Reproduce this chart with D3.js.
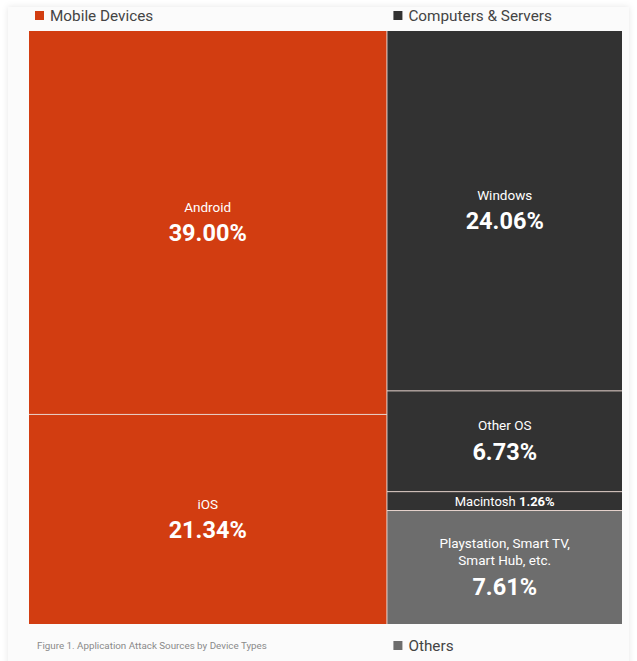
<!DOCTYPE html>
<html>
<head>
<meta charset="utf-8">
<script src="https://cdn.jsdelivr.net/npm/d3@7"></script>
<style>
  html, body { margin: 0; padding: 0; background: #ffffff; }
  svg { display: block; font-family: Roboto, "Noto Sans", sans-serif; }
</style>
</head>
<body>
<svg id="chart" width="637" height="661"></svg>
<script>
// ---- data ----
const categories = ["Android", "iOS", "Windows", "Other OS", "Macintosh", "Playstation, Smart TV, Smart Hub, etc."];
const groupOf    = ["Mobile Devices", "Mobile Devices", "Computers & Servers", "Computers & Servers", "Computers & Servers", "Others"];
const values     = [39.00, 21.34, 24.06, 6.73, 1.26, 7.61];
const groupNames = ["Mobile Devices", "Computers & Servers", "Others"];
const groupColors = ["#d23d11", "#323232", "#6d6d6d"];
const caption = "Figure 1. Application Attack Sources by Device Types";

// ---- layout ----
const W = 637, H = 661;
const box = { x0: 29, y0: 31, x1: 622, y1: 624 };
const svg = d3.select("#chart");

const defs = svg.append("defs");
const f = defs.append("filter").attr("id", "shadow").attr("x", "-5%").attr("y", "-5%").attr("width", "110%").attr("height", "110%");
f.append("feDropShadow").attr("dx", 0).attr("dy", 0).attr("stdDeviation", 3).attr("flood-color", "#000").attr("flood-opacity", 0.10);

svg.append("rect").attr("x", 0).attr("y", 0).attr("width", W).attr("height", H).attr("fill", "#ffffff");
svg.append("rect").attr("x", 8).attr("y", 7).attr("width", 621).attr("height", 670)
  .attr("fill", "#fbfbfb").attr("filter", "url(#shadow)");

// hierarchy: root -> [Mobile, Right column -> [Computers, Others]]
const leaves = categories.map((c, i) => ({ name: c, group: groupOf[i], value: values[i] }));
const mk = g => ({ name: g, children: leaves.filter(d => d.group === g) });
const tree = {
  name: "root",
  children: [
    mk("Mobile Devices"),
    { name: "right", children: [mk("Computers & Servers"), mk("Others")] }
  ]
};

const root = d3.hierarchy(tree).sum(d => d.children ? 0 : d.value);
const tile = (node, x0, y0, x1, y1) => {
  if (node.depth === 0) d3.treemapDice(node, x0, y0, x1, y1);
  else d3.treemapSlice(node, x0, y0, x1, y1);
};
d3.treemap().tile(tile).size([box.x1 - box.x0, box.y1 - box.y0]).paddingInner(1).round(false)(root);

const color = d3.scaleOrdinal().domain(groupNames).range(groupColors);
const fmt = v => d3.format(".2f")(v) + "%";

const g = svg.append("g").attr("transform", `translate(${box.x0},${box.y0})`);
g.append("rect").attr("width", box.x1 - box.x0).attr("height", box.y1 - box.y0).attr("fill", "#e9d6cf");

const cell = g.selectAll("g.cell").data(root.leaves()).join("g").attr("class", "cell");
cell.append("rect")
  .attr("x", d => d.x0).attr("y", d => d.y0)
  .attr("width", d => d.x1 - d.x0).attr("height", d => d.y1 - d.y0)
  .attr("fill", d => color(d.data.group));

cell.each(function(d) {
  const sel = d3.select(this);
  const cx = (d.x0 + d.x1) / 2, cy = (d.y0 + d.y1) / 2;
  const w = d.x1 - d.x0, h = d.y1 - d.y0;
  if (h < 40) {
    const t = sel.append("text").attr("x", cx).attr("y", cy).attr("dy", "0.35em")
      .attr("text-anchor", "middle").attr("fill", "#ffffff").attr("font-size", 13);
    t.append("tspan").attr("font-weight", 400).text(d.data.name + " ");
    t.append("tspan").attr("font-weight", 700).text(fmt(d.data.value));
    return;
  }
  // wrap name
  const maxW = w - 80;
  const tmp = sel.append("text").attr("font-size", 13.5);
  const words = d.data.name.split(" ");
  const lines = [];
  let line = [];
  words.forEach(word => {
    line.push(word);
    tmp.text(line.join(" "));
    if (tmp.node().getComputedTextLength() > maxW && line.length > 1) {
      line.pop();
      lines.push(line.join(" "));
      line = [word];
    }
  });
  lines.push(line.join(" "));
  tmp.remove();
  const lh = 17;
  const total = lines.length * lh + 26;
  const top = cy - total / 2 + 6;
  lines.forEach((ln, i) => {
    sel.append("text").attr("x", cx).attr("y", top + i * lh).attr("dy", "0.35em")
      .attr("text-anchor", "middle").attr("fill", "#ffffff")
      .attr("font-size", 13.5).attr("font-weight", 400).text(ln);
  });
  sel.append("text").attr("x", cx).attr("y", top + lines.length * lh + 9).attr("dy", "0.35em")
    .attr("text-anchor", "middle").attr("fill", "#ffffff")
    .attr("font-size", 23.5).attr("font-weight", 700).text(fmt(d.data.value));
});

// group legends
const gx = {};
root.descendants().filter(n => n.depth >= 1 && groupNames.includes(n.data.name)).forEach(n => gx[n.data.name] = n);
const legendPos = [
  { name: "Mobile Devices", y: 16 },
  { name: "Computers & Servers", y: 16 },
  { name: "Others", y: 646 }
];
legendPos.forEach(p => {
  const n = gx[p.name];
  const x = box.x0 + n.x0 + 6;
  svg.append("rect").attr("x", x).attr("y", p.y - 5).attr("width", 9).attr("height", 9)
    .attr("fill", color(p.name));
  svg.append("text").attr("x", x + 15).attr("y", p.y).attr("dy", "0.35em")
    .attr("font-size", 15.3).attr("fill", "#444444").text(p.name);
});

svg.append("text").attr("x", 37).attr("y", 646).attr("dy", "0.35em")
  .attr("font-size", 9.8).attr("fill", "#8a8a8a").text(caption);
</script>
</body>
</html>
